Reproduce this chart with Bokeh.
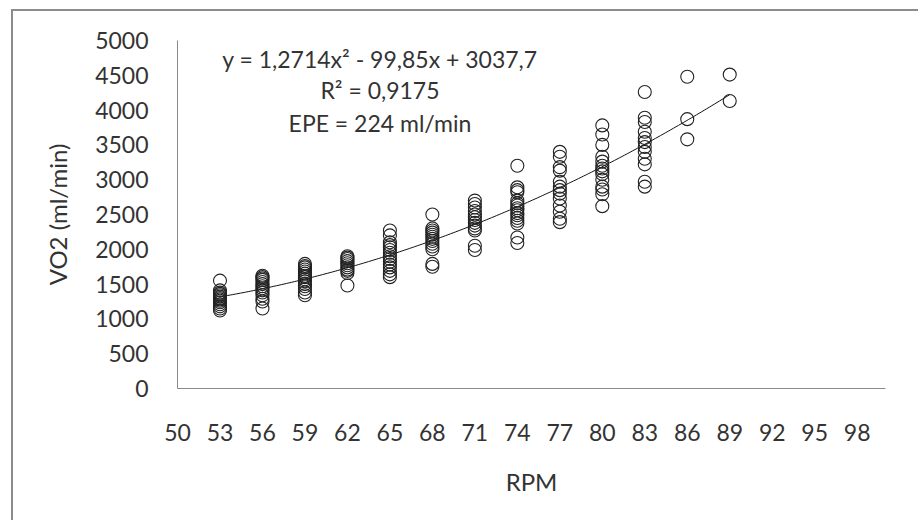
from bokeh.plotting import figure
from bokeh.models import FixedTicker, Label, Range1d
from bokeh.embed import file_html
from bokeh.resources import INLINE

# ---- data ----
rpm_levels = [53, 56, 59, 62, 65, 68, 71, 74, 77, 80, 83, 86, 89]
vo2_53 = [1550, 1410, 1380, 1360, 1340, 1320, 1300, 1280, 1260, 1240, 1210, 1180, 1150, 1120]
vo2_56 = [1620, 1600, 1580, 1560, 1530, 1500, 1470, 1440, 1410, 1380, 1340, 1290, 1250, 1150]
vo2_59 = [1790, 1760, 1740, 1710, 1680, 1650, 1620, 1600, 1570, 1540, 1500, 1470, 1430, 1380, 1340]
vo2_62 = [1900, 1880, 1860, 1830, 1800, 1770, 1740, 1710, 1690, 1660, 1480]
vo2_65 = [2270, 2200, 2100, 2060, 2030, 1990, 1950, 1900, 1860, 1820, 1780, 1740, 1690, 1640, 1600]
vo2_68 = [2500, 2300, 2270, 2240, 2210, 2180, 2150, 2120, 2080, 2040, 2000, 1790, 1750]
vo2_71 = [2700, 2650, 2600, 2550, 2500, 2460, 2420, 2380, 2340, 2300, 2270, 2050, 1990]
vo2_74 = [3200, 2890, 2850, 2820, 2700, 2660, 2630, 2590, 2560, 2520, 2490, 2450, 2410, 2370, 2170, 2090]
vo2_77 = [3400, 3330, 3180, 3130, 2970, 2900, 2850, 2800, 2730, 2630, 2540, 2440, 2390]
vo2_80 = [3780, 3650, 3500, 3330, 3260, 3200, 3160, 3120, 3080, 3000, 2900, 2860, 2790, 2620]
vo2_83 = [4260, 3890, 3830, 3690, 3600, 3540, 3470, 3400, 3300, 3220, 2970, 2900]
vo2_86 = [4480, 3870, 3580]
vo2_89 = [4510, 4130]

# quadratic trendline coefficients as printed on the chart (a, b, c)
trend_coeffs = [1.2714, -99.85, 3037.7]
trend_x_start, trend_x_end = 53, 89

annotation_lines = ["y = 1,2714x² - 99,85x + 3037,7", "R² = 0,9175", "EPE = 224 ml/min"]

x_ticks = list(range(50, 99, 3))
y_ticks = list(range(0, 5001, 500))
x_label = "RPM"
y_label = "VO2 (ml/min)"

# ---- build ----
columns = [vo2_53, vo2_56, vo2_59, vo2_62, vo2_65, vo2_68, vo2_71,
           vo2_74, vo2_77, vo2_80, vo2_83, vo2_86, vo2_89]
xs, ys = [], []
for r, col in zip(rpm_levels, columns):
    xs += [r] * len(col)
    ys += col

FONT = "Lato"
TXT = "#333333"
AX = "#8a8a8a"

p = figure(width=907, height=511, output_backend="svg", toolbar_location=None,
           x_range=Range1d(50, 100), y_range=Range1d(0, 5000),
           min_border_left=164, min_border_right=35, min_border_top=29,
           min_border_bottom=134)
p.margin = (9, 0, 0, 11)
p.styles = {"border-top": "2px solid #8c8c8c", "border-left": "2px solid #8c8c8c",
            "box-sizing": "border-box"}

p.outline_line_color = None
p.xgrid.visible = False
p.ygrid.visible = False

for ax in (p.xaxis[0], p.yaxis[0]):
    ax.axis_line_color = AX
    ax.axis_line_width = 1
    ax.major_tick_line_color = None
    ax.minor_tick_line_color = None
    ax.major_label_text_font = FONT
    ax.major_label_text_font_size = "23px"
    ax.major_label_text_color = TXT
    ax.axis_label_text_font = FONT
    ax.axis_label_text_font_size = "24px"
    ax.axis_label_text_font_style = "normal"
    ax.axis_label_text_color = TXT

p.xaxis.ticker = FixedTicker(ticks=x_ticks)
p.yaxis.ticker = FixedTicker(ticks=y_ticks)
p.xaxis.major_label_standoff = 29
p.yaxis.major_label_standoff = 23
p.xaxis.axis_label = x_label
p.yaxis.axis_label = y_label
p.xaxis.axis_label_standoff = 23
p.yaxis.axis_label_standoff = 20

# trendline
n = 200
tx = [trend_x_start + (trend_x_end - trend_x_start) * i / (n - 1) for i in range(n)]
ty = [trend_coeffs[0] * x * x + trend_coeffs[1] * x + trend_coeffs[2] for x in tx]
p.line(tx, ty, line_color="#111111", line_width=1)

p.scatter(xs, ys, marker="circle", size=13, fill_color=None,
          line_color="#222222", line_width=1.1)

label_y = [4741, 4294, 3819]
for t, yy in zip(annotation_lines, label_y):
    p.add_layout(Label(x=64.3, y=yy, text=t, text_align="center",
                       text_baseline="middle", text_font=FONT,
                       text_font_size="23px", text_color=TXT))

open("out.html", "w").write(file_html(p, INLINE))
